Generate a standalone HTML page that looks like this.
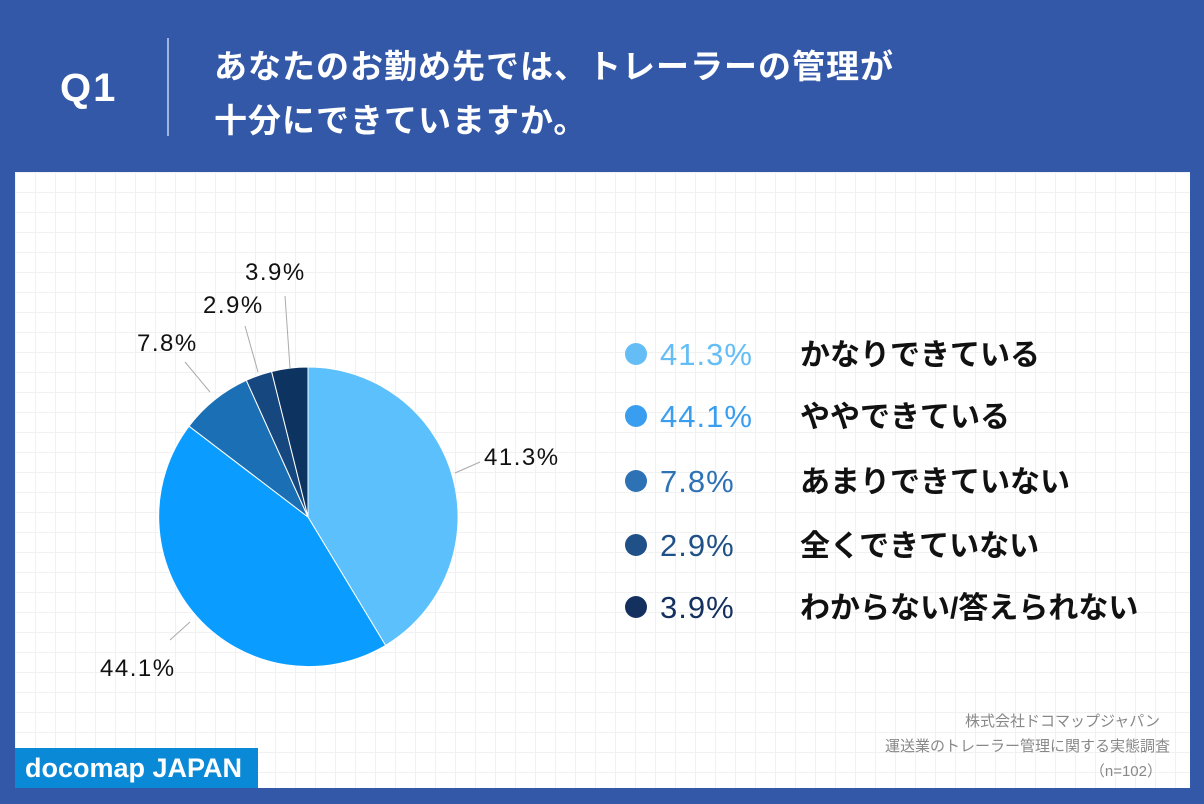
<!DOCTYPE html>
<html><head><meta charset="utf-8"><style>
body{margin:0;width:1204px;height:804px;background:#3358a8;position:relative;overflow:hidden;font-family:"Liberation Sans","Noto Sans CJK JP",sans-serif}
.panel{position:absolute;left:15px;top:172px;width:1175px;height:616px;background-color:#fff;background-image:linear-gradient(#f1f1f1 1px,transparent 1px),linear-gradient(90deg,#f1f1f1 1px,transparent 1px);background-size:20px 20px}
.t{position:absolute;white-space:nowrap}
</style></head><body>
<div class="t" style="left:60px;top:66px;color:#fff;font-size:40px;font-weight:bold;letter-spacing:2px">Q1</div>
<div style="position:absolute;left:167px;top:38px;width:2px;height:98px;background:#9fb3dc"></div>
<div class="t" style="left:214px;top:40px;color:#fff;font-size:33px;font-weight:bold;line-height:54px;letter-spacing:1px">あなたのお勤め先では、トレーラーの管理が<br>十分にできていますか。</div>
<div class="panel"></div>
<svg style="position:absolute;left:0;top:0" width="1204" height="804">
<g stroke="#fff" stroke-width="1">
<path d="M308 517 L308 367 A150 150 0 0 1 385.6 645.4 Z" fill="#5bc0fc"/>
<path d="M308 517 L385.6 645.4 A150 150 0 0 1 189 426.2 Z" fill="#0a9cff"/>
<path d="M308 517 L189 426.2 A150 150 0 0 1 246.3 380.3 Z" fill="#1a6fb5"/>
<path d="M308 517 L246.3 380.3 A150 150 0 0 1 271.6 371.5 Z" fill="#16487f"/>
<path d="M308 517 L271.6 371.5 A150 150 0 0 1 308 367 Z" fill="#0d3360"/>
</g>
<g stroke="#aaa" stroke-width="1" fill="none">
<path d="M290 368 L285 296"/><path d="M258 372 L245 326"/><path d="M210 392 L185 362"/>
<path d="M455 473 L480 462"/><path d="M190 622 L170 640"/>
</g>
<g font-size="24" fill="#111" letter-spacing="1.5">
<text x="245" y="280">3.9%</text><text x="203" y="313">2.9%</text><text x="137" y="351">7.8%</text>
<text x="484" y="465">41.3%</text><text x="100" y="676">44.1%</text>
</g>
<g font-size="31" letter-spacing="1">
<circle cx="636" cy="354" r="11" fill="#64bdf5"/><text x="660" y="365" fill="#64bdf5">41.3%</text>
<circle cx="636" cy="416" r="11" fill="#3a9ef0"/><text x="660" y="427" fill="#3a9ef0">44.1%</text>
<circle cx="636" cy="481" r="11" fill="#2e72b6"/><text x="660" y="492" fill="#2e72b6">7.8%</text>
<circle cx="636" cy="545" r="11" fill="#1f5088"/><text x="660" y="556" fill="#1f5088">2.9%</text>
<circle cx="636" cy="607" r="11" fill="#14305f"/><text x="660" y="618" fill="#14305f">3.9%</text>
</g>
<g font-size="30" fill="#111" font-weight="bold">
<text x="800" y="365">かなりできている</text><text x="800" y="427">ややできている</text>
<text x="800" y="492">あまりできていない</text><text x="800" y="556">全くできていない</text>
<text x="800" y="618">わからない/答えられない</text>
</g>
<g font-size="15" fill="#888" text-anchor="end">
<text x="1160" y="726">株式会社ドコマップジャパン</text>
<text x="1170" y="751">運送業のトレーラー管理に関する実態調査</text>
<text x="1162" y="776">（n=102）</text>
</g>
</svg>
<div class="t" style="left:15px;top:748px;width:243px;height:40px;background:#0a8ad6;color:#fff;font-size:27px;font-weight:bold;line-height:40px;text-indent:10px">docomap JAPAN</div>
</body></html>
